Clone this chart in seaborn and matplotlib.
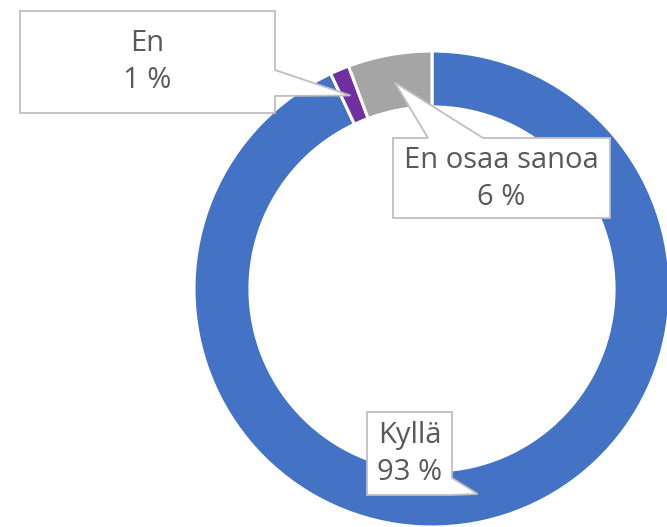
import numpy as np
import matplotlib
matplotlib.use("Agg")
import matplotlib.pyplot as plt
import seaborn as sns
from matplotlib.patches import Polygon

# data
labels = ["Kyllä", "En", "En osaa sanoa"]
values = [93.0, 1.3, 5.7]
pct_labels = ["93 %", "1 %", "6 %"]
colors = ["#4472C4", "#7030A0", "#A5A5A5"]

W, H = 667, 527
sns.set_theme(style="white")
plt.rcParams['font.family'] = ['Open Sans', 'DejaVu Sans']

fig = plt.figure(figsize=(W / 100, H / 100), dpi=100)
ax = fig.add_axes([0, 0, 1, 1])

# donut, centre at pixel (432, 289), radius 238 px
cx, cy, R = 432, 289, 238
ring = 0.235
wedges, _ = ax.pie(values, colors=colors, startangle=90, counterclock=False,
                   radius=1, wedgeprops=dict(width=ring, edgecolor="white", linewidth=2.2))
ax.set_xlim(-cx / R, (W - cx) / R)
ax.set_ylim(-(H - cy) / R, cy / R)
ax.set_aspect("equal")
ax.axis("off")


def tip_px(w):
    # middle of the ring at the wedge's mid angle, in image pixels (y down)
    a = np.deg2rad((w.theta1 + w.theta2) / 2)
    r = 1 - ring / 2
    return (cx + r * R * np.cos(a), cy - r * R * np.sin(a))


def callout(box, side, base, tip, text, txt_center):
    l, t, r, b = box
    if side == "right":
        pts = [(l, t), (r, t), (r, base[0]), tip, (r, base[1]), (r, b), (l, b)]
    else:  # top
        pts = [(l, t), (base[0], t), tip, (base[1], t), (r, t), (r, b), (l, b)]
    pts = [(x / W, 1 - y / H) for x, y in pts]
    fig.patches.append(Polygon(pts, closed=True, transform=fig.transFigure,
                               facecolor="white", edgecolor="#BFBFBF", linewidth=1.3,
                               zorder=5))
    fig.text(txt_center[0] / W, 1 - txt_center[1] / H, text, ha="center", va="center",
             fontsize=21, color="#595959", linespacing=1.35, zorder=6)


callout((20, 11, 275, 113), "right", (70, 96), tip_px(wedges[1]),
        f"{labels[1]}\n{pct_labels[1]}", (147, 62))
callout((393, 138, 610, 218), "top", (428, 483), tip_px(wedges[2]),
        f"{labels[2]}\n{pct_labels[2]}", (501, 179))
callout((367, 412, 452, 495), "right", (478, 495), tip_px(wedges[0]),
        f"{labels[0]}\n{pct_labels[0]}", (410, 454))

fig.savefig("out.png", dpi=100)
